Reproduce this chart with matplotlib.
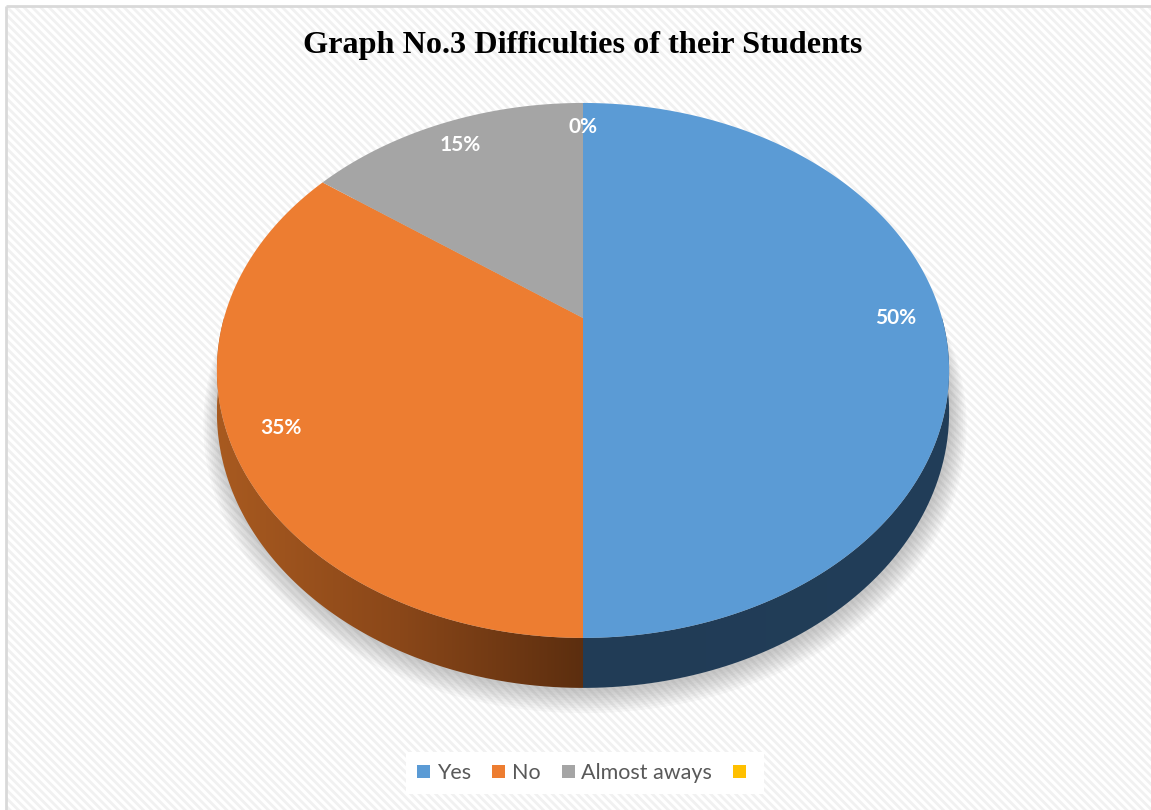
import numpy as np
import matplotlib
matplotlib.use("Agg")
import matplotlib.pyplot as plt
from matplotlib.patches import Polygon, Rectangle, Patch
from matplotlib.colors import LinearSegmentedColormap

# ---- data ----
categories = ["Yes", "No", "Almost aways", ""]
values = [50, 35, 15, 0]
colors = ["#5B9BD5", "#ED7D31", "#A5A5A5", "#FFC000"]
title = "Graph No.3 Difficulties of their Students"

W, H = 1151, 810
fig = plt.figure(figsize=(W / 100, H / 100), dpi=100)
fig.patch.set_facecolor("white")
ax = fig.add_axes([0, 0, 1, 1])

# perspective projection of the unit disk onto pixel coords (y up)
CX, CY = 583.0, H - 318.0
A, B, K, C = 257.2, 359.0, 0.196, 40.2


def proj(u, v, z=0.0):
    s = 1 + K * v
    return CX + B * u / s, CY + (A * v + C * z) / s


wedges, texts, autotexts = ax.pie(
    values, radius=1, center=(0, 0), startangle=90, counterclock=False,
    colors=colors, autopct=lambda p: f"{p:.0f}%", pctdistance=0.87)

ax.set_aspect("auto")
ax.set_xlim(0, W)
ax.set_ylim(0, H)
ax.axis("off")

# background with faint diagonal hatch
plt.rcParams["hatch.linewidth"] = 2.0
bg = Rectangle((7, 0), W - 7, H - 7, facecolor="white", edgecolor="#f1f1f1",
               hatch="\\\\\\\\", linewidth=0, zorder=0)
ax.add_patch(bg)
ax.plot([6, 6], [0, H - 6], color="#d9d9d9", lw=2, zorder=1, solid_capstyle="butt")
ax.plot([6, W], [H - 6, H - 6], color="#d9d9d9", lw=2, zorder=1, solid_capstyle="butt")

# soft shadow under the pie
t_all = np.linspace(0, 2 * np.pi, 400)
for i in range(10):
    sc = 1.0 + 0.0045 * i
    xs, ys = proj(np.cos(t_all) * sc, np.sin(t_all) * sc, -1)
    ax.add_patch(Polygon(np.column_stack([xs + 2, ys - 3 - 0.6 * i]), closed=True,
                         facecolor="#707070", edgecolor="none", alpha=0.045, zorder=2))

# sides (front half only)
side_colors = {0: ["#213c56", "#223e59"], 1: ["#a85a20", "#8a4719", "#5c2e0f"],
               2: ["#6a6a6a", "#5a5a5a"], 3: ["#a07800", "#806000"]}
for i, w in enumerate(wedges):
    th1, th2 = w.theta1, w.theta2
    lo, hi = max(th1, -180), min(th2, 0)
    if hi <= lo:
        lo, hi = max(th1 + 360, 180), min(th2 + 360, 360)
        if hi <= lo:
            continue
    t = np.radians(np.linspace(lo, hi, 200))
    xt, yt = proj(np.cos(t), np.sin(t), 0)
    xb, yb = proj(np.cos(t), np.sin(t), -1)
    pts = np.column_stack([np.r_[xt, xb[::-1]], np.r_[yt, yb[::-1]]])
    poly = Polygon(pts, closed=True, facecolor="none", edgecolor="none", zorder=3)
    ax.add_patch(poly)
    cmap = LinearSegmentedColormap.from_list(f"s{i}", side_colors[i])
    x0, x1 = pts[:, 0].min(), pts[:, 0].max()
    y0, y1 = pts[:, 1].min(), pts[:, 1].max()
    grad = np.linspace(0, 1, 256)[None, :]
    im = ax.imshow(grad, cmap=cmap, extent=(x0, x1, y0, y1), aspect="auto",
                   zorder=3, interpolation="bilinear")
    im.set_clip_path(poly)

ax.set_xlim(0, W)
ax.set_ylim(0, H)

# top faces
for i, w in enumerate(wedges):
    th1, th2 = w.theta1, w.theta2
    if th2 - th1 <= 0:
        w.remove()
        continue
    t = np.radians(np.linspace(th1, th2, 300))
    u = np.r_[0, np.cos(t) * w.r, 0] + w.center[0]
    v = np.r_[0, np.sin(t) * w.r, 0] + w.center[1]
    xs, ys = proj(u, v, 0)
    ax.add_patch(Polygon(np.column_stack([xs, ys]), closed=True,
                         facecolor=colors[i], edgecolor="none", zorder=4))
    w.remove()

for t in texts:
    t.remove()

for at in autotexts:
    u, v = at.get_position()
    x, y = proj(u, v, 0)
    at.set_position((x, y))
    at.set_color("white")
    at.set_fontweight("bold")
    at.set_fontsize(15)
    at.set_fontfamily(["Lato", "DejaVu Sans"])
    at.set_zorder(6)

# title
ax.text(583, H - 46, title, ha="center", va="center", fontsize=23.2,
        fontweight="bold", family=["Liberation Serif", "DejaVu Serif"], color="black", zorder=6)

# legend
handles = [Patch(facecolor=c, edgecolor="none") for c in colors]
leg = ax.legend(handles, categories, loc="center", bbox_to_anchor=(585 / W, 1 - 773 / H),
                ncol=4, frameon=True, fancybox=False, edgecolor="none", facecolor="white",
                framealpha=1.0, handlelength=0.6, handleheight=0.6, handletextpad=0.3,
                columnspacing=1.0, borderpad=0.5,
                prop={"family": ["Lato", "DejaVu Sans"], "size": 15.5})
for txt in leg.get_texts():
    txt.set_color("#595959")
leg.set_zorder(7)

fig.savefig("out.png", dpi=100, facecolor=fig.get_facecolor())
